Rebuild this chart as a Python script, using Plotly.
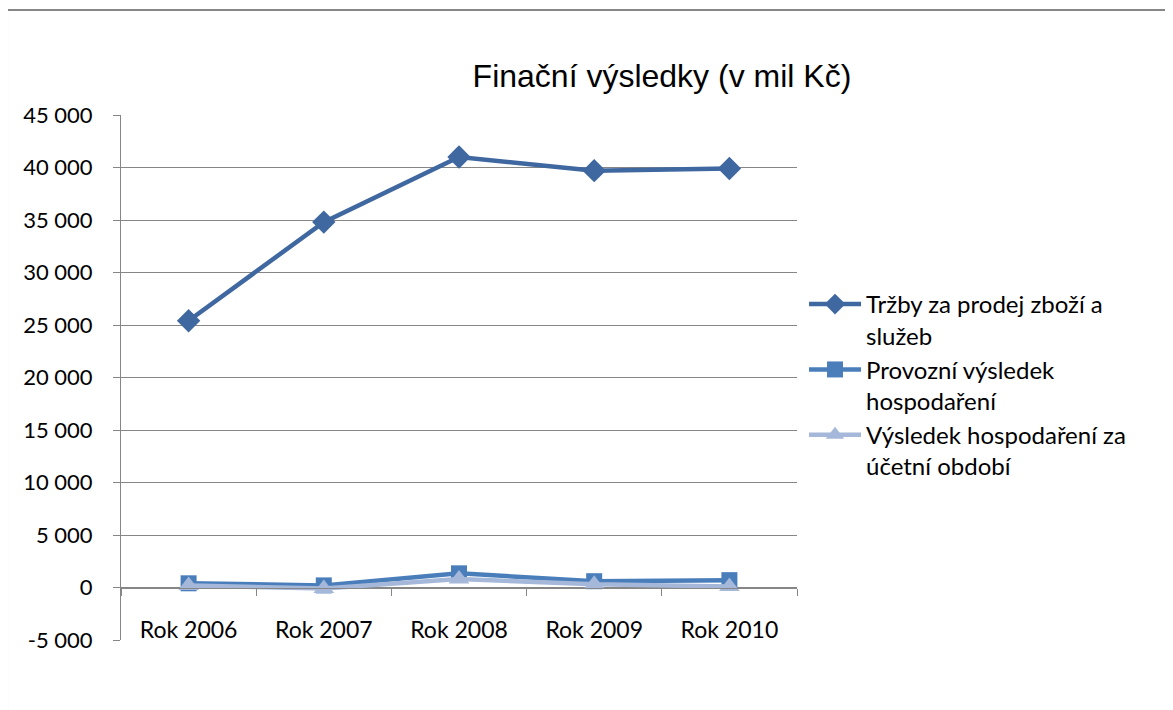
import plotly.graph_objects as go

years = ["Rok 2006", "Rok 2007", "Rok 2008", "Rok 2009", "Rok 2010"]
trzby = [25400, 34800, 41000, 39700, 39900]
provozni = [400, 200, 1350, 600, 700]
vysledek = [200, -100, 800, 300, 100]

y_ticks = [-5000, 0, 5000, 10000, 15000, 20000, 25000, 30000, 35000, 40000, 45000]
y_labels = ["-5 000", "0", "5 000", "10 000", "15 000", "20 000",
            "25 000", "30 000", "35 000", "40 000", "45 000"]

names = ["Tržby za prodej zboží a<br>služeb",
         "Provozní výsledek<br>hospodaření",
         "Výsledek hospodaření za<br>účetní období"]

fig = go.Figure()

# sales line
fig.add_trace(go.Scatter(
    x=years, y=trzby, mode="lines+markers", name=names[0], legendgroup="a",
    line=dict(color="#3F67A0", width=4.5),
    marker=dict(symbol="diamond", size=18, color="#3F67A0"),
))
# operating result
fig.add_trace(go.Scatter(
    x=years, y=provozni, mode="lines+markers", name=names[1], legendgroup="b",
    line=dict(color="#4A7EBB", width=4.5),
    marker=dict(symbol="square", size=16, color="#4A7EBB"),
))
# result for the period
fig.add_trace(go.Scatter(
    x=years, y=vysledek, mode="lines+markers", name=names[2], legendgroup="c",
    line=dict(color="#A5B8D9", width=4.5),
    marker=dict(symbol="triangle-up", size=18, color="#A5B8D9"),
))

fig.update_layout(
    width=1173, height=710,
    paper_bgcolor="white", plot_bgcolor="white",
    margin=dict(l=113, r=384, t=107, b=78),
    font=dict(family="Lato, Calibri, sans-serif", size=22, color="black"),
    title=dict(text="Finační výsledky (v mil Kč)", x=0.5575, xanchor="center",
               y=0.904, yanchor="middle",
               font=dict(family="'Liberation Sans', Arial, sans-serif", size=32)),
    showlegend=True,
    legend=dict(x=1.0104, xanchor="left", y=0.682, yanchor="top",
                valign="top", tracegroupgap=0, itemwidth=52,
                font=dict(size=24), bgcolor="rgba(0,0,0,0)"),
    xaxis=dict(
        type="category", anchor="free", position=0.1,
        showline=True, linecolor="#868686", linewidth=1,
        ticks="outside", ticklen=7, tickcolor="#868686", tickson="boundaries",
        ticklabelstandoff=22, showgrid=False, zeroline=False,
        range=[-0.5, 4.5], tickfont=dict(size=23),
    ),
    yaxis=dict(
        range=[-5000, 45000], tickvals=y_ticks, ticktext=y_labels,
        showgrid=True, gridcolor="#868686", gridwidth=1,
        showline=True, linecolor="#868686", linewidth=1,
        ticks="outside", ticklen=7, tickcolor="#868686",
        zeroline=False, ticklabelstandoff=16, tickfont=dict(size=22),
    ),
    shapes=[dict(type="rect", xref="paper", yref="paper",
                 x0=-0.1686, x1=1.6, y0=-0.3, y1=1.2,
                 line=dict(color="#868686", width=2), fillcolor="rgba(0,0,0,0)",
                 layer="below")],
)

fig.write_html("out.html")
